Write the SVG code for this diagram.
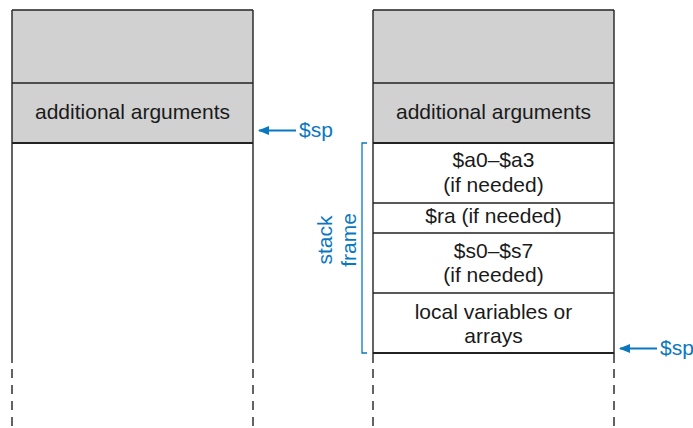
<svg xmlns="http://www.w3.org/2000/svg" width="693" height="428" viewBox="0 0 693 428">
<style>
.t{font-family:"Liberation Sans",Arial,sans-serif;font-size:21px;fill:#1a1a1a;text-anchor:middle}
.b{font-family:"Liberation Sans",Arial,sans-serif;font-size:21px;fill:#0a78c0}
.gray{fill:#d1d1d1;stroke:none}
.ln{stroke:#222;stroke-width:1.4;fill:none}
.thick{stroke:#222;stroke-width:2;fill:none}
.dash{stroke:#222;stroke-width:1.4;stroke-dasharray:9 7;fill:none}
.arr{stroke:#0a78c0;stroke-width:2;fill:none}
</style>
<defs>
<marker id="ah" markerWidth="11" markerHeight="9" refX="10" refY="4.5" orient="auto" markerUnits="userSpaceOnUse">
<path d="M0,0 L11,4.5 L0,9 Z" fill="#0a78c0"/>
</marker>
</defs>
<g id="left-stack">
<rect class="gray" x="12" y="10" width="241" height="133"/>
<line class="ln" x1="12" y1="10" x2="253" y2="10"/>
<line class="ln" x1="12" y1="83" x2="253" y2="83"/>
<line class="thick" x1="12" y1="143" x2="253" y2="143"/>
<line class="ln" x1="12" y1="10" x2="12" y2="363"/>
<line class="ln" x1="253" y1="10" x2="253" y2="363"/>
<line class="dash" x1="12" y1="369" x2="12" y2="428"/>
<line class="dash" x1="253" y1="369" x2="253" y2="428"/>
<text class="t" x="132.5" y="119">additional arguments</text>
</g>
<g id="right-stack">
<rect class="gray" x="373" y="10" width="241" height="133"/>
<line class="ln" x1="373" y1="10" x2="614" y2="10"/>
<line class="ln" x1="373" y1="83" x2="614" y2="83"/>
<line class="thick" x1="373" y1="143" x2="614" y2="143"/>
<line class="ln" x1="373" y1="203" x2="614" y2="203"/>
<line class="ln" x1="373" y1="233" x2="614" y2="233"/>
<line class="ln" x1="373" y1="293" x2="614" y2="293"/>
<line class="thick" x1="373" y1="353" x2="614" y2="353"/>
<line class="ln" x1="373" y1="10" x2="373" y2="363"/>
<line class="ln" x1="614" y1="10" x2="614" y2="363"/>
<line class="dash" x1="373" y1="369" x2="373" y2="428"/>
<line class="dash" x1="614" y1="369" x2="614" y2="428"/>
<text class="t" x="493.5" y="119">additional arguments</text>
<text class="t" x="493.5" y="167">$a0–$a3</text>
<text class="t" x="493.5" y="192">(if needed)</text>
<text class="t" x="493.5" y="223">$ra (if needed)</text>
<text class="t" x="493.5" y="258">$s0–$s7</text>
<text class="t" x="493.5" y="282">(if needed)</text>
<text class="t" x="493.5" y="319">local variables or</text>
<text class="t" x="493.5" y="343">arrays</text>
</g>
<g id="stack-frame-label">
<path d="M367,143 H362 V353 H367" fill="none" stroke="#0a78c0" stroke-width="1.3"/>
<text class="b" text-anchor="middle" transform="translate(332,240) rotate(-90)">stack</text>
<text class="b" text-anchor="middle" transform="translate(356,240) rotate(-90)">frame</text>
</g>
<g id="connectors">
<line class="arr" x1="296" y1="130.5" x2="259" y2="130.5" marker-end="url(#ah)"/>
<text class="b" x="299" y="137">$sp</text>
<line class="arr" x1="657" y1="348.5" x2="620" y2="348.5" marker-end="url(#ah)"/>
<text class="b" x="660" y="355">$sp</text>
</g>
</svg>
